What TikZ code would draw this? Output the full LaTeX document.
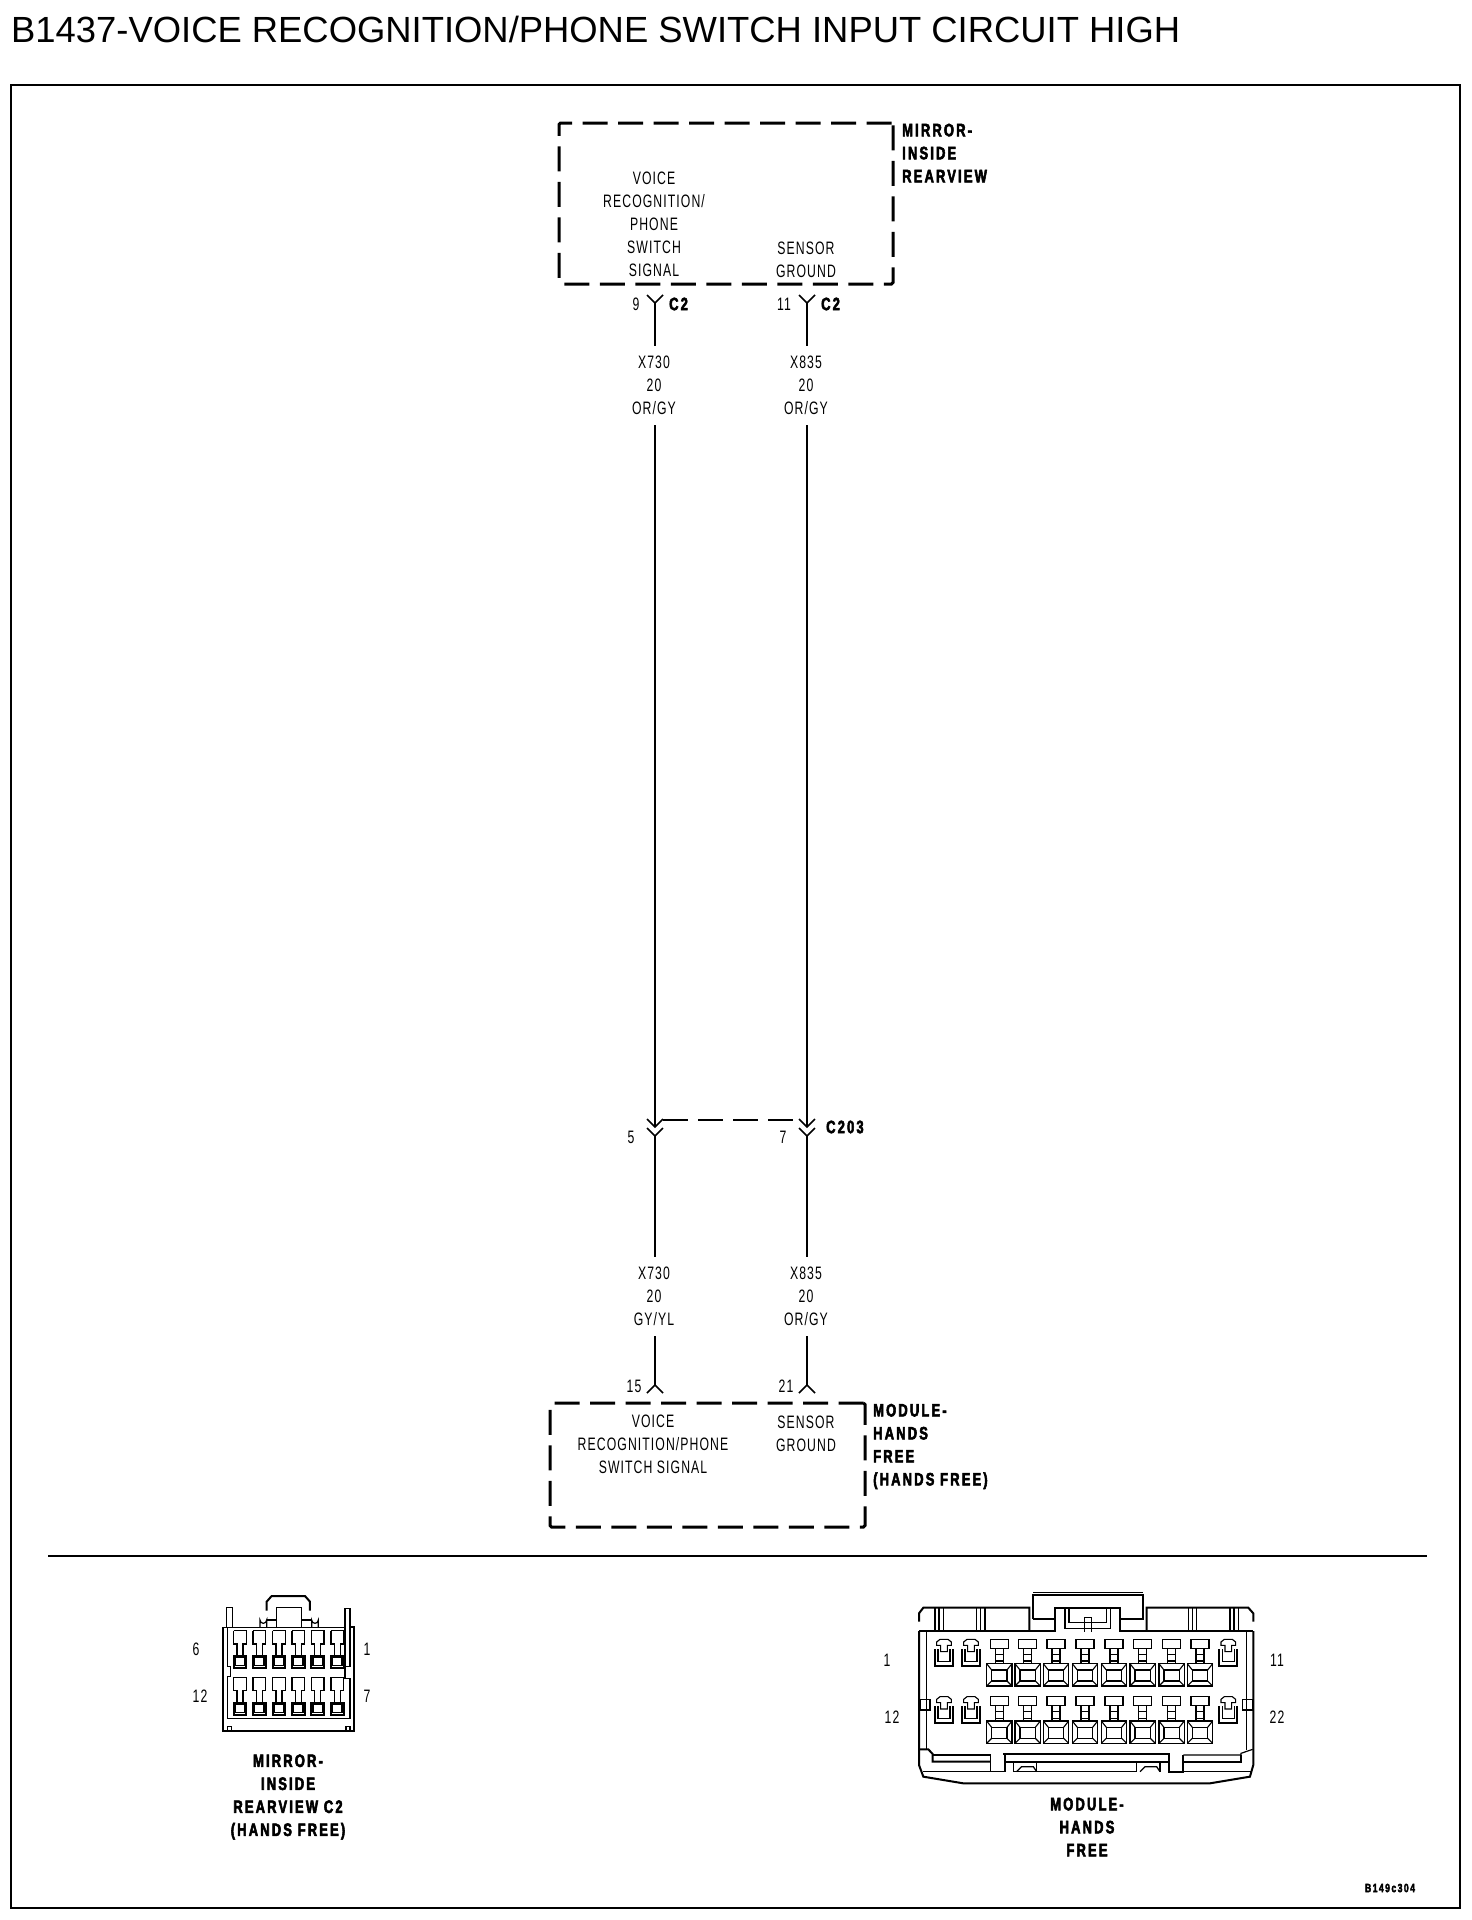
\documentclass[tikz,border=0pt]{standalone}
\usepackage{fontspec}
\usetikzlibrary{positioning}
\newfontfamily\titleFamily{Liberation Sans}
\newfontfamily\wireFamily[FakeStretch=0.68,LetterSpace=6]{Liberation Sans}
\newfontfamily\tagFamily[FakeStretch=0.72,LetterSpace=12,BoldFeatures={FakeBold=3}]{Liberation Sans}
\newcommand{\wireFont}{\fontsize{18}{23}\selectfont\wireFamily}
\newcommand{\tagFont}{\fontsize{18}{23}\selectfont\tagFamily\bfseries}
\tikzstyle{sheet} = [x = 1pt, y = -1pt]
\tikzstyle{frameLine} = [line width = 2.6pt]
\tikzstyle{ruleLine} = [line width = 2pt]
\tikzstyle{wireLine} = [line width = 1.6pt]
\tikzstyle{shieldLine} = [line width = 1.1pt, dash pattern = on 25pt off 10pt]
\tikzstyle{moduleBox} = [draw, line width = 3pt, dash pattern = on 25pt off 10.5pt, rounded corners = 1.5pt, inner sep = 0pt]
\tikzstyle{wireLabel} = [font=\wireFont, align=center, inner sep = 0pt]
\tikzstyle{gaugeLabel} = [font=\wireFont, align=center, inner sep = 10pt]
\tikzstyle{tagLabel} = [font=\tagFont, align=left, inner sep = 0pt, anchor=west]
\tikzstyle{tagCentered} = [font=\tagFont, align=center, inner sep = 0pt]
\tikzstyle{pinLine} = [line width = 1.1pt]
\tikzstyle{pinHeavy} = [line width = 1.8pt]
\tikzstyle{shellLine} = [line width = 1.2pt]
\tikzstyle{shellHeavy} = [line width = 2pt]
\newcommand{\forkDown}[1]{\draw [wireLine] ([shift={(-8,-8)}]#1) -- (#1) -- ([shift={(8,-8)}]#1);}
\newcommand{\forkUp}[1]{\draw [wireLine] ([shift={(-8,8)}]#1) -- (#1) -- ([shift={(8,8)}]#1);}
\newcommand{\mirrorPin}[2]{
  \draw [pinLine] (#1-19,#2) -- (#1+19,#2) -- (#1+19,#2+40) -- (#1+9,#2+40) -- (#1+9,#2+75);
  \draw [pinLine] (#1-19,#2) -- (#1-19,#2+40) -- (#1-9,#2+40) -- (#1-9,#2+75);
  \draw [pinHeavy] (#1-19,#2+76) rectangle (#1+19,#2+112);
  \draw [pinLine] (#1-14,#2+81) rectangle (#1+14,#2+105);
}
\newcommand{\latchCavity}[2]{
  \draw [pinLine] (#1-10,#2+37) -- (#1-10,#2+18) -- (#1-22,#2+18) -- (#1-22,#2+8) -- (#1-12,#2) -- (#1+12,#2) -- (#1+22,#2+8) -- (#1+22,#2+18) -- (#1+10,#2+18) -- (#1+10,#2+37) -- cycle;
  \draw [pinHeavy] (#1-27,#2+29) -- (#1-27,#2+80) -- (#1+27,#2+80) -- (#1+27,#2+29);
  \draw [pinLine] (#1-18,#2+29) -- (#1-18,#2+66) -- (#1+18,#2+66) -- (#1+18,#2+29);
}
\newcommand{\squareCavity}[2]{
  \draw [pinLine] (#1-27,#2) rectangle (#1+27,#2+27);
  \draw [pinLine] (#1-12,#2+27) -- (#1-12,#2+73);
  \draw [pinLine] (#1+12,#2+27) -- (#1+12,#2+73);
  \draw [pinLine] (#1-12,#2+45) -- (#1+12,#2+45);
  \draw [pinLine] (#1-12,#2+65) -- (#1+12,#2+65);
  \draw [pinLine] (#1-38,#2+73) rectangle (#1+38,#2+140);
  \draw [pinLine] (#1-23,#2+92) rectangle (#1+23,#2+125);
  \draw [pinLine] (#1-38,#2+73) -- (#1-23,#2+92);
  \draw [pinLine] (#1+38,#2+73) -- (#1+23,#2+92);
  \draw [pinLine] (#1-38,#2+140) -- (#1-23,#2+125);
  \draw [pinLine] (#1+38,#2+140) -- (#1+23,#2+125);
}
\begin{document}
\begin{tikzpicture}[sheet]
  \useasboundingbox (0,0) rectangle (1472,1920);
  \node (titleText) [anchor=base west, inner sep=0pt, font=\fontsize{36.4}{40}\selectfont\titleFamily] at (11,42) {B1437-VOICE RECOGNITION/PHONE SWITCH INPUT CIRCUIT HIGH};
  \draw [frameLine] (11,85) rectangle (1460,1908);

  \node (mirrorBox) [moduleBox, minimum width=334pt, minimum height=161pt] at (726,203.5) {};
  \node (mirrorTag) [tagLabel] at (902,153) {MIRROR-\\INSIDE\\REARVIEW};
  \node (mirrorVoice) [wireLabel] at (654,224.5) {VOICE\\RECOGNITION/\\PHONE\\SWITCH\\SIGNAL};
  \node (mirrorGround) [wireLabel] at (806,259.5) {SENSOR\\GROUND};

  \coordinate (forkA) at (655,303);
  \coordinate (forkB) at (807,303);
  \forkDown{forkA}
  \forkDown{forkB}
  \node (pinNine) [wireLabel] at (636,304) {9};
  \node (pinEleven) [wireLabel] at (784,304) {11};
  \node (tagForkA) [tagLabel] at (669,304) {C2};
  \node (tagForkB) [tagLabel] at (821,304) {C2};

  \node (gaugeTopA) [gaugeLabel] at (654,385.5) {X730\\20\\OR/GY};
  \node (gaugeTopB) [gaugeLabel] at (806,385.5) {X835\\20\\OR/GY};

  \coordinate (plugA) at (655,1127);
  \coordinate (plugB) at (807,1127);
  \coordinate (jackA) at (655,1136);
  \coordinate (jackB) at (807,1136);
  \forkDown{plugA}
  \forkDown{plugB}
  \forkDown{jackA}
  \forkDown{jackB}
  \draw [shieldLine] ([shift={(8,-7)}]plugA) -- ([shift={(-8,-7)}]plugB);
  \node (pinFive) [wireLabel] at (631,1137) {5};
  \node (pinSeven) [wireLabel] at (783,1137) {7};
  \node (tagPlug) [tagLabel] at (826,1127) {C203};

  \node (gaugeLowA) [gaugeLabel] at (654,1296.5) {X730\\20\\GY/YL};
  \node (gaugeLowB) [gaugeLabel] at (806,1296.5) {X835\\20\\OR/GY};

  \coordinate (capA) at (655,1385);
  \coordinate (capB) at (807,1385);
  \forkUp{capA}
  \forkUp{capB}
  \node (pinFifteen) [wireLabel] at (634,1386) {15};
  \node (pinTwentyOne) [wireLabel] at (786,1386) {21};

  \draw [wireLine] (forkA) -- (gaugeTopA.north -| forkA);
  \draw [wireLine] (forkB) -- (gaugeTopB.north -| forkB);
  \draw [wireLine] (gaugeTopA.south -| forkA) -- (plugA);
  \draw [wireLine] (gaugeTopB.south -| forkB) -- (plugB);
  \draw [wireLine] (jackA) -- (gaugeLowA.north -| jackA);
  \draw [wireLine] (jackB) -- (gaugeLowB.north -| jackB);
  \draw [wireLine] (gaugeLowA.south -| capA) -- (capA);
  \draw [wireLine] (gaugeLowB.south -| capB) -- (capB);

  \node (moduleBoxLow) [moduleBox, minimum width=315pt, minimum height=124pt] at (707.5,1465) {};
  \node (moduleTag) [tagLabel] at (873,1446.5) {MODULE-\\HANDS\\FREE\\(HANDS FREE)};
  \node (moduleVoice) [wireLabel] at (653,1444.5) {VOICE\\RECOGNITION/PHONE\\SWITCH SIGNAL};
  \node (moduleGround) [wireLabel] at (806,1433.5) {SENSOR\\GROUND};

  \draw [ruleLine] (48,1556) -- (1427,1556);

  \begin{scope}[shift={(170,1570)}, x=0.3333pt, y=-0.3333pt]
    \draw [shellLine] (188,172) -- (188,113) -- (170,113) -- (170,172);
    \draw [shellLine] (525,172) -- (525,115) -- (540,115) -- (540,290) -- (525,290) -- (525,172);
    \draw [shellHeavy] (160,172) -- (160,482) -- (552,482) -- (552,172) -- (540,172);
    \draw [shellLine] (160,172) -- (525,172);
    \draw [shellHeavy] (290,122) -- (290,95) -- (305,78) -- (405,78) -- (420,95) -- (420,122);
    \draw [shellLine] (320,172) -- (320,112) -- (395,112) -- (395,172);
    \draw [shellLine] (290,150) -- (320,150);
    \draw [shellLine] (395,150) -- (425,150);
    \draw [shellLine] (270,172) -- (270,150) arc (180:0:10) -- (290,172);
    \draw [shellLine] (425,172) -- (425,150) arc (180:0:10) -- (445,172);
    \draw [shellLine] (172,172) -- (172,290) -- (182,290) -- (182,320) -- (172,320) -- (172,445) -- (540,445) -- (540,325) -- (525,325) -- (525,290);
    \draw [shellLine] (172,482) -- (172,470) -- (185,470) -- (185,482);
    \draw [shellLine] (528,482) -- (528,470) -- (540,470) -- (540,482);
    \foreach \pinX in {210,268,327,385,443,502} {
      \mirrorPin{\pinX}{182}
      \mirrorPin{\pinX}{322}
    }
  \end{scope}
  \node (mirrorSix) [wireLabel] at (196,1649) {6};
  \node (mirrorOne) [wireLabel] at (367,1649) {1};
  \node (mirrorTwelve) [wireLabel] at (200,1696) {12};
  \node (mirrorSeven) [wireLabel] at (367,1696) {7};
  \node (mirrorCaption) [tagCentered] at (288,1797) {MIRROR-\\INSIDE\\REARVIEW C2\\(HANDS FREE)};

  \begin{scope}[shift={(870,1580)}, x=0.3333pt, y=-0.3333pt]
    \draw [shellHeavy] (147,125) -- (147,100) -- (160,83) -- (478,83) -- (478,153);
    \draw [shellHeavy] (830,153) -- (830,83) -- (1135,83) -- (1150,100) -- (1150,125);
    \draw [shellHeavy] (147,153) -- (555,153) -- (555,85) -- (750,85) -- (750,153) -- (1150,153);
    \draw [shellLine] (490,38) -- (818,38);
    \draw [shellHeavy] (490,118) -- (490,45) -- (818,45) -- (818,118) -- (750,118);
    \draw [shellHeavy] (490,118) -- (555,118);
    \draw [shellLine] (585,85) -- (585,145) -- (722,145) -- (722,85);
    \draw [shellLine] (597,85) -- (597,127) -- (710,127) -- (710,85);
    \draw [shellLine] (643,155) -- (643,112) -- (665,112) -- (665,155);
    \foreach \ribX in {195,207,220,320,332,345,955,967,980,1080,1092,1105} {
      \draw [shellLine] (\ribX,85) -- (\ribX,153);
    }
    \draw [shellHeavy] (147,153) -- (147,555) -- (160,590) -- (280,610) -- (1020,610) -- (1140,590) -- (1150,555) -- (1150,153);
    \draw [shellLine] (170,153) -- (170,510);
    \draw [shellLine] (1130,153) -- (1130,510);
    \draw [shellLine] (150,358) rectangle (180,390);
    \draw [shellLine] (1117,358) rectangle (1147,390);
    \draw [shellHeavy] (150,508) -- (175,508) -- (188,522) -- (188,545) -- (362,545);
    \draw [shellLine] (188,525) -- (362,525) -- (362,575) -- (405,575) -- (405,522);
    \draw [shellHeavy] (400,522) -- (898,522) -- (898,575) -- (940,575) -- (940,525);
    \draw [shellHeavy] (405,545) -- (898,545);
    \draw [shellLine] (940,525) -- (1113,525) -- (1113,520) -- (1148,508);
    \draw [shellHeavy] (940,545) -- (1113,545) -- (1113,525);
    \draw [shellLine] (160,575) -- (362,575);
    \draw [shellLine] (430,575) -- (800,575);
    \draw [shellLine] (940,575) -- (1145,575);
    \draw [shellLine] (430,545) -- (430,575);
    \draw [shellLine] (500,545) -- (500,575);
    \draw [shellLine] (440,575) -- (455,560) -- (490,560) -- (500,575);
    \draw [shellLine] (800,545) -- (800,575);
    \draw [shellLine] (870,545) -- (870,575);
    \draw [shellLine] (810,575) -- (825,560) -- (860,560) -- (870,575);
    \foreach \rowY in {178,350} {
      \foreach \latchX in {222,303,1075} {
        \latchCavity{\latchX}{\rowY}
      }
      \foreach \squareX in {388,473,558,645,732,818,905,990} {
        \squareCavity{\squareX}{\rowY}
      }
    }
  \end{scope}
  \node (moduleOne) [wireLabel] at (887,1660) {1};
  \node (moduleTwelve) [wireLabel] at (892,1717) {12};
  \node (moduleEleven) [wireLabel] at (1277,1660) {11};
  \node (moduleTwentyTwo) [wireLabel] at (1277,1717) {22};
  \node (moduleCaption) [tagCentered] at (1087,1827) {MODULE-\\HANDS\\FREE};
  \node (drawingCode) [font=\fontsize{12}{14}\selectfont\tagFamily\bfseries, inner sep=0pt] at (1390,1888) {B149c304};
\end{tikzpicture}
\end{document}
